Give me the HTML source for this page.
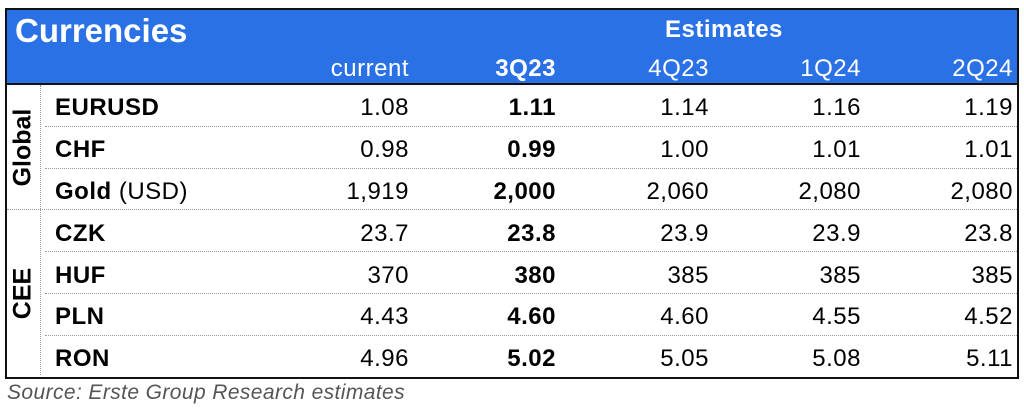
<!DOCTYPE html>
<html><head><meta charset="utf-8"><style>
body{margin:0;width:1024px;height:417px;background:#fff;position:relative;font-family:"Liberation Sans",Arial,sans-serif;overflow:hidden}
.box{position:absolute;left:5px;top:8px;width:1010px;height:367px;border:2px solid #111}
.hdr{position:absolute;left:7px;top:10px;width:1010px;height:73px;background:#2a71e6;border-bottom:2px solid #111}
.t{position:absolute;white-space:nowrap;line-height:1}
.w{color:#fff}
.sep{position:absolute;left:45px;width:972px;border-top:1px dotted #999}
.vs{position:absolute;left:40px;top:85px;height:290px;border-left:1px dotted #999}
.grp{position:absolute;font-weight:bold;font-size:25px;transform:rotate(-90deg);transform-origin:center}
</style></head><body>
<div class="box"></div>
<div class="hdr"></div>
<div class="t w" style="left:15px;top:14px;font-size:33px;font-weight:bold">Currencies</div>
<div class="t w" style="left:665px;top:18px;font-size:24px;font-weight:bold;letter-spacing:0.5px">Estimates</div>
<div class="vs"></div>
<div class="sep" style="top:126px"></div>
<div class="sep" style="top:168px"></div>
<div class="sep" style="top:209px;left:7px;width:1010px"></div>
<div class="sep" style="top:251px"></div>
<div class="sep" style="top:293px"></div>
<div class="sep" style="top:335px"></div>
<div class="grp" style="left:-20px;top:133px;width:86px;text-align:center">Global</div>
<div class="grp" style="left:-20px;top:279px;width:86px;text-align:center">CEE</div>
<div id="c"></div>
<div class="t" style="left:7px;top:382px;font-size:21px;font-style:italic;color:#555;letter-spacing:0.4px">Source: Erste Group Research estimates</div>
<script>
const headers=["current","3Q23","4Q23","1Q24","2Q24"];
const labels=["EURUSD","CHF","Gold","CZK","HUF","PLN","RON"];
const values=[
["1.08","1.11","1.14","1.16","1.19"],
["0.98","0.99","1.00","1.01","1.01"],
["1,919","2,000","2,060","2,080","2,080"],
["23.7","23.8","23.9","23.9","23.8"],
["370","380","385","385","385"],
["4.43","4.60","4.60","4.55","4.52"],
["4.96","5.02","5.05","5.08","5.11"]];
const colRight=[409,556,709,861,1013];
const rowTop=[96,138,180,222,264,305,347];
const c=document.getElementById('c');
headers.forEach((h,i)=>{
 const d=document.createElement('div');
 d.className='t w';
 d.style.cssText=`right:${1024-colRight[i]}px;top:57px;font-size:24px;letter-spacing:0.5px;${i==1?'font-weight:bold':''}`;
 d.textContent=h;
 
 
 c.appendChild(d);
});
labels.forEach((l,r)=>{
 const d=document.createElement('div');
 d.className='t';
 d.style.cssText=`left:55px;top:${rowTop[r]}px;font-size:24px;font-weight:bold;letter-spacing:0.5px`;
 d.innerHTML=l=="Gold"?'Gold <span style="font-weight:normal">(USD)</span>':l;
 
 
 c.appendChild(d);
 values[r].forEach((v,i)=>{
  const e=document.createElement('div');
  e.className='t';
  e.style.cssText=`right:${1024-colRight[i]}px;top:${rowTop[r]}px;font-size:24px;letter-spacing:0.5px;${i==1?'font-weight:bold':''}`;
  e.textContent=v;
  
  
  c.appendChild(e);
 });
});
</script>
</body></html>
